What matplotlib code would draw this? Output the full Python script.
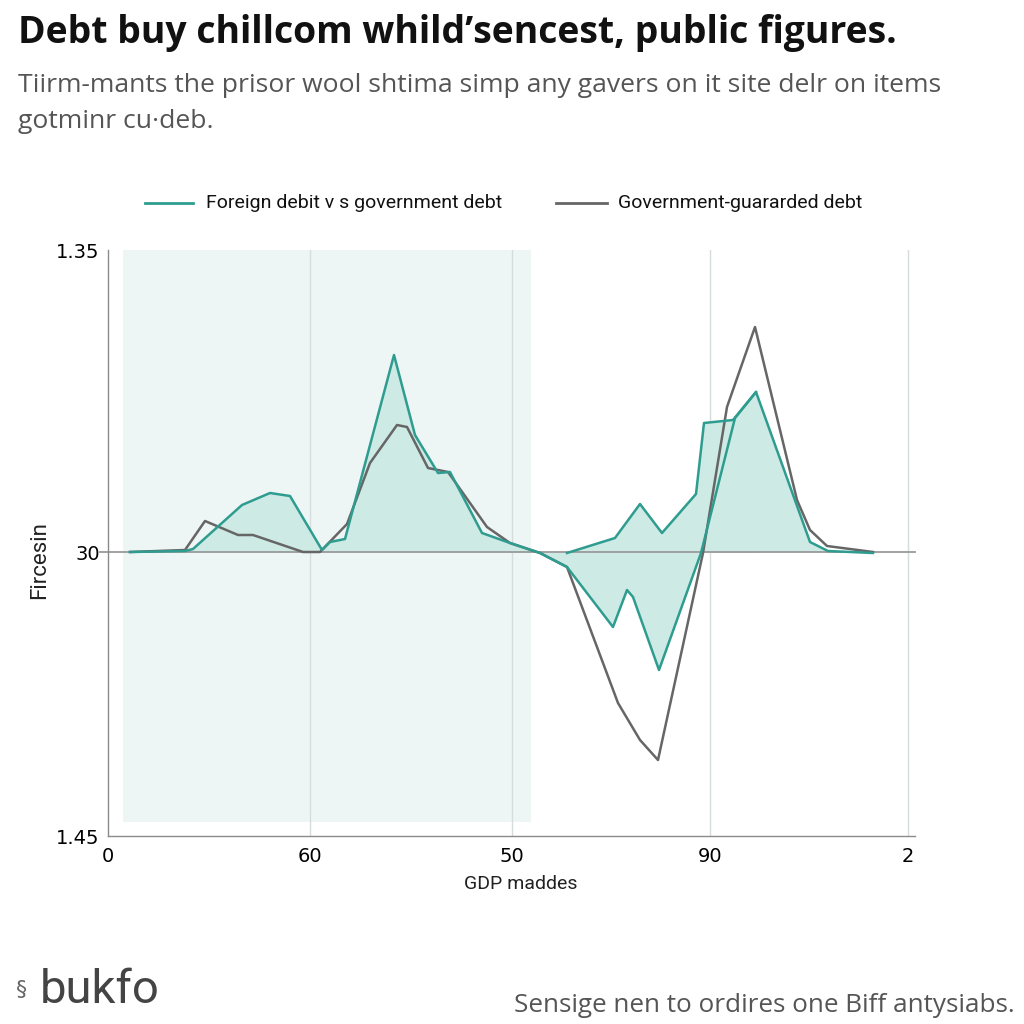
import matplotlib
matplotlib.use("Agg")
import matplotlib.pyplot as plt

# ---- data (x in chart units, y relative to baseline) ----
teal_x = [11, 38.5, 42.5, 67, 81, 91, 107, 111, 118.5, 143, 153.5, 165, 171, 187, 201, 216,
          229.5, 252.5, 259.5, 262.5, 275.5, 296.5, 313.5, 324, 351, 360, 382.5]
teal_y = [0.0, 0.01, 0.03, 0.47, 0.59, 0.56, 0.02, 0.10, 0.13, 1.97, 1.17, 0.79, 0.80, 0.19,
          0.09, -0.01, -0.15, -0.75, -0.38, -0.45, -1.18, -0.01, 1.34, 1.60, 0.10, 0.01, -0.01]

teal_up_x = [229.5, 253.5, 266, 277, 294, 298, 312.5, 324]
teal_up_y = [-0.01, 0.14, 0.48, 0.19, 0.58, 1.29, 1.32, 1.60]

grey_x = [11, 38.5, 48.5, 65, 72.5, 97.5, 106, 119.5, 131, 144.5, 149.5, 160, 170, 189.5, 201,
          216, 229.5, 255, 266, 275, 297.5, 309.5, 323.5, 344.5, 351, 359.5, 382.5]
grey_y = [0.0, 0.02, 0.31, 0.17, 0.17, 0.0, 0.0, 0.28, 0.89, 1.27, 1.25, 0.84, 0.80, 0.25,
          0.09, -0.01, -0.15, -1.51, -1.88, -2.08, -0.01, 1.45, 2.25, 0.52, 0.22, 0.06, 0.0]

x_ticks = [0, 101, 202, 301, 400]
x_labels = ["0", "60", "50", "90", "2"]
y_ticks = [3.02, 0.0, -2.84]
y_labels = ["1.35", "30", "1.45"]
shade_x = [7.5, 211.5]
shade_y = [-2.70, 3.02]

TEAL = "#2f9c90"
FILL = "#cdeae4"
GREY = "#666666"

fig = plt.figure(figsize=(10.24, 10.24), dpi=100)
ax = fig.add_axes([108/1024, 1-836/1024, (915-108)/1024, (836-250)/1024])
ax.set_xlim(0, 403.5)
ax.set_ylim(-2.84, 3.02)

ax.fill_between(shade_x, shade_y[0], shade_y[1], color="#eef6f5", zorder=0, lw=0)

for xt in x_ticks[1:]:
    ax.axvline(xt, color="#d6dcdc", lw=1, zorder=1)

ax.fill_between(teal_x, teal_y, 0, color=FILL, lw=0, zorder=2)
ax.fill_between(teal_up_x, teal_up_y, 0, color=FILL, lw=0, zorder=2)
ax.axhline(0, xmin=-0.01, xmax=1, color="#9a9a9a", lw=1.3, zorder=2.5, clip_on=False)

ax.plot(grey_x, grey_y, color=GREY, lw=1.8, zorder=3)
ax.plot(teal_x, teal_y, color=TEAL, lw=1.8, zorder=4)
ax.plot(teal_up_x, teal_up_y, color=TEAL, lw=1.8, zorder=4)

for s in ["top", "right"]:
    ax.spines[s].set_visible(False)
for s in ["left", "bottom"]:
    ax.spines[s].set_color("#8a8a8a")
    ax.spines[s].set_linewidth(1)
ax.set_xticks(x_ticks)
ax.set_xticklabels(x_labels, fontsize=14)
ax.set_yticks(y_ticks)
ax.set_yticklabels(y_labels, fontsize=14)
ax.tick_params(length=0, pad=6)
ax.tick_params(axis="x", pad=8)
ax.set_facecolor("white")

fig.text(40/1024, 1-560/1024, "Fircesin", rotation=90, ha="center", va="center",
         fontsize=16, family="Roboto", color="#222")
fig.text(521/1024, 1-884/1024, "GDP maddes", ha="center", va="center",
         fontsize=14, family="Roboto", color="#222")

# legend (manual)
fig.lines.append(plt.Line2D([145/1024, 193/1024], [1-203/1024]*2, color=TEAL, lw=2,
                            transform=fig.transFigure))
fig.text(206/1024, 1-203/1024, "Foreign debit v s government debt", ha="left", va="center",
         fontsize=14, family="Roboto", color="#111")
fig.lines.append(plt.Line2D([556/1024, 607/1024], [1-203/1024]*2, color=GREY, lw=2,
                            transform=fig.transFigure))
fig.text(618/1024, 1-203/1024, "Government-guararded debt", ha="left", va="center",
         fontsize=14, family="Roboto", color="#111")

renderer = fig.canvas.get_renderer()

def fit(t, target_px):
    w = t.get_window_extent(renderer).width
    t.set_fontsize(t.get_fontsize() * target_px / w)

t1 = fig.text(18/1024, 1-33/1024, "Debt buy chillcom whild\u2019sencest, public figures.",
              ha="left", va="center", fontsize=25, fontweight="bold", family="Open Sans", color="#111")
fit(t1, 882)
t2 = fig.text(18/1024, 1-85/1024, "Tiirm-mants the prisor wool shtima simp any gavers on it site delr on items",
              ha="left", va="center", fontsize=17, family="Open Sans", color="#555")
fit(t2, 922)
t3 = fig.text(18/1024, 1-122/1024, "gotminr cu\u00b7deb.",
              ha="left", va="center", fontsize=t2.get_fontsize(), family="Open Sans", color="#555")

# footer
fig.text(16/1024, 1-990/1024, "\u00a7", ha="left", va="center", fontsize=16,
         family="DejaVu Sans", color="#666")
fig.text(40/1024, 1-990/1024, "bukfo", ha="left", va="center", fontsize=34,
         family="Roboto", color="#444")
t4 = fig.text(1015/1024, 1-1005/1024, "Sensige nen to ordires one Biff antysiabs.",
              ha="right", va="center", fontsize=17, family="Open Sans", color="#555")
fit(t4, 502)

fig.savefig("out.png", dpi=100, facecolor="white")
